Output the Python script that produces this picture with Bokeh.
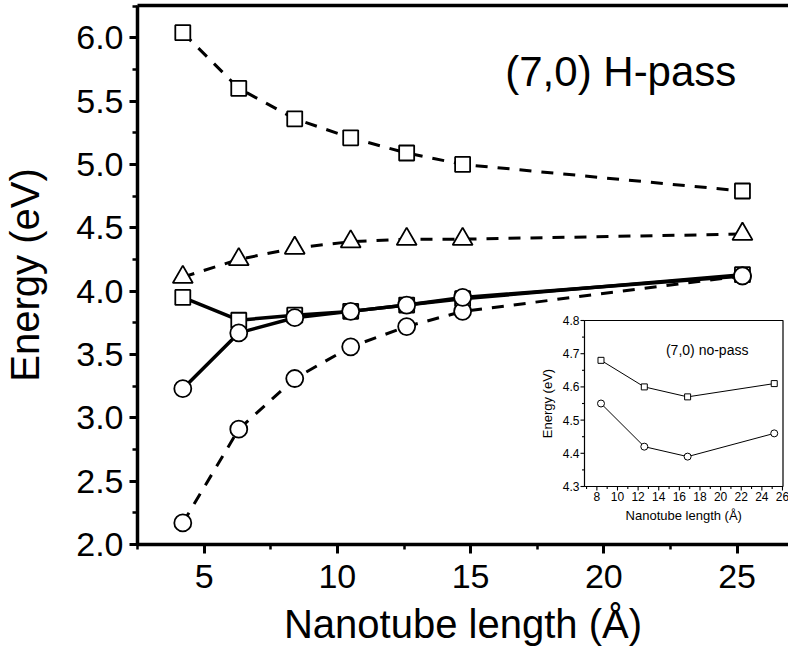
import numpy as np
from bokeh.plotting import figure
from bokeh.models import (Range1d, LinearAxis, SingleIntervalTicker, FixedTicker,
                          PrintfTickFormatter, Label)
from bokeh.core.properties import value
from bokeh.embed import file_html
from bokeh.resources import INLINE

# ---------------- data ----------------
length = [4.2, 6.3, 8.4, 10.5, 12.6, 14.7, 25.2]
sq_dashed = [6.04, 5.60, 5.36, 5.21, 5.09, 5.00, 4.79]
tri_dashed = [4.11, 4.25, 4.34, 4.39, 4.41, 4.41, 4.45]
sq_solid = [3.95, 3.77, 3.81, 3.84, 3.89, 3.94, 4.13]
ci_solid = [3.23, 3.67, 3.79, 3.84, 3.89, 3.95, 4.12]
ci_dashed = [2.17, 2.91, 3.31, 3.56, 3.72, 3.84, 4.12]

inset_length = [8.4, 12.6, 16.8, 25.2]
inset_sq = [4.68, 4.60, 4.57, 4.61]
inset_ci = [4.55, 4.42, 4.39, 4.46]
inset_xticks_major = [8, 10, 12, 14, 16, 18, 20, 22, 24, 26]
inset_xticks_minor = [7, 9, 11, 13, 15, 17, 19, 21, 23, 25]
inset_yticks_major = [4.3, 4.4, 4.5, 4.6, 4.7, 4.8]
inset_yticks_minor = [4.35, 4.45, 4.55, 4.65, 4.75]

FONT = "Liberation Sans"

# ---------------- layout constants ----------------
FW, FH = 651, 539
PX_PER_EV = 126.7
X0, X1 = 2.5, 2.5 + FW / 26.65
Y0 = 2.0
Y1 = Y0 + FH / PX_PER_EV

p = figure(frame_width=FW, frame_height=FH, x_range=Range1d(X0, X1),
           y_range=Range1d(Y0, Y1), output_backend="svg", toolbar_location=None,
           min_border_left=136, min_border_right=0, min_border_top=5,
           min_border_bottom=0)
p.outline_line_color = None
p.xgrid.grid_line_color = None
p.ygrid.grid_line_color = None
p.background_fill_color = "white"

# axes styling
for ax in (p.xaxis[0], p.yaxis[0]):
    ax.axis_line_width = 3.5
    ax.axis_line_color = "black"
    ax.major_tick_line_width = 3
    ax.minor_tick_line_width = 2.5
    ax.major_tick_in = 0
    ax.minor_tick_in = 0
    ax.major_label_text_font = FONT
    ax.major_label_text_font_size = "34px"
    ax.major_label_text_color = "black"
    ax.axis_label_text_font = FONT
    ax.axis_label_text_font_size = "40px"
    ax.axis_label_text_font_style = "normal"
    ax.axis_label_text_color = "black"

p.xaxis[0].ticker = SingleIntervalTicker(interval=5, num_minor_ticks=2)
p.xaxis[0].major_tick_out = 9
p.xaxis[0].minor_tick_out = 5
p.xaxis[0].major_label_standoff = 11
p.xaxis[0].axis_label = "Nanotube length (Å)"
p.xaxis[0].axis_label_standoff = 11

p.yaxis[0].ticker = SingleIntervalTicker(interval=0.5, num_minor_ticks=2)
p.yaxis[0].formatter = PrintfTickFormatter(format="%.1f")
p.yaxis[0].major_tick_out = 8
p.yaxis[0].minor_tick_out = 5
p.yaxis[0].major_label_standoff = 6
p.yaxis[0].axis_label = "Energy (eV)"
p.yaxis[0].axis_label_standoff = 26

top = LinearAxis(ticker=FixedTicker(ticks=[]), major_label_text_font_size="1px",
                 axis_line_width=3.5, axis_line_color="black", major_tick_out=0,
                 major_tick_in=0, minor_tick_out=0, minor_tick_in=0,
                 major_label_standoff=0)
p.add_layout(top, "above")

# ---------------- main series ----------------
LW = 3
DASH = "12 10"
p.line(length, sq_dashed, line_color="black", line_width=LW, line_dash=DASH)
p.line(length, tri_dashed, line_color="black", line_width=LW, line_dash=DASH)
p.line(length, ci_dashed, line_color="black", line_width=LW, line_dash=DASH)
p.line(length, sq_solid, line_color="black", line_width=3.5)
p.line(length, ci_solid, line_color="black", line_width=3.5)

mk = dict(fill_color="white", line_color="black", line_width=1.8)
p.scatter(length, sq_dashed, marker="square", size=15, **mk)
p.scatter(length, tri_dashed, marker="triangle", size=20, **mk)
p.scatter(length, sq_solid, marker="square", size=15, **mk)
p.scatter(length, ci_dashed, marker="circle", size=17, **mk)
p.scatter(length, ci_solid, marker="circle", size=17, **mk)

p.add_layout(Label(x=16.3, y=5.73, text="(7,0) H-pass", text_font=FONT,
                   text_font_size="42px", text_color="black",
                   text_baseline="alphabetic", text_align="left"))

# ---------------- inset (drawn through extra ranges) ----------------
IX0, IX1 = 6.8, 26.05
IY0, IY1 = 4.3, 4.8
in_left, in_right = 447, 645.5      # px from frame left
in_bottom, in_top = 58, 224         # px from frame bottom
sx = (IX1 - IX0) / (in_right - in_left)
sy = (IY1 - IY0) / (in_top - in_bottom)
ix_start = IX0 - in_left * sx
iy_start = IY0 - in_bottom * sy
p.extra_x_ranges = {"ix": Range1d(ix_start, ix_start + FW * sx)}
p.extra_y_ranges = {"iy": Range1d(iy_start, iy_start + FH * sy)}
R = dict(x_range_name="ix", y_range_name="iy")

p.quad(left=[IX0], right=[IX1], bottom=[IY0], top=[IY1], fill_color="white",
       line_color="black", line_width=1.2, **R)

# ticks
nx = len(inset_xticks_major)
p.segment(x0=inset_xticks_major, y0=[IY0] * nx, x1=inset_xticks_major,
          y1=[IY0 - 4 * sy] * nx, line_color="black", line_width=1.1, **R)
p.segment(x0=inset_xticks_minor, y0=[IY0] * len(inset_xticks_minor),
          x1=inset_xticks_minor, y1=[IY0 - 2.5 * sy] * len(inset_xticks_minor),
          line_color="black", line_width=1.1, **R)
ny = len(inset_yticks_major)
p.segment(x0=[IX0] * ny, y0=inset_yticks_major, x1=[IX0 - 4 * sx] * ny,
          y1=inset_yticks_major, line_color="black", line_width=1.1, **R)
p.segment(x0=[IX0] * len(inset_yticks_minor), y0=inset_yticks_minor,
          x1=[IX0 - 2.5 * sx] * len(inset_yticks_minor), y1=inset_yticks_minor,
          line_color="black", line_width=1.1, **R)

# tick labels
p.text(x=inset_xticks_major, y=[IY0] * nx, text=[str(t) for t in inset_xticks_major],
       y_offset=5, text_align="center", text_baseline="top",
       text_font=value(FONT), text_font_size="12px", text_color="black", **R)
p.text(x=[IX0] * ny, y=inset_yticks_major, text=["%.1f" % t for t in inset_yticks_major],
       x_offset=-5, text_align="right", text_baseline="middle",
       text_font=value(FONT), text_font_size="12px", text_color="black", **R)
# axis titles
p.text(x=[(IX0 + IX1) / 2], y=[IY0], text=["Nanotube length (Å)"], y_offset=21,
       text_align="center", text_baseline="top", text_font=value(FONT),
       text_font_size="13px", text_color="black", **R)
p.text(x=[IX0], y=[(IY0 + IY1) / 2], text=["Energy (eV)"], x_offset=-30,
       angle=np.pi / 2, text_align="center", text_baseline="bottom",
       text_font=value(FONT), text_font_size="13px", text_color="black", **R)
p.text(x=[14.7], y=[4.71], text=["(7,0) no-pass"], text_align="left",
       text_baseline="alphabetic", text_font=value(FONT), text_font_size="14px",
       text_color="black", **R)

# inset series
p.line(inset_length, inset_sq, line_color="black", line_width=1, **R)
p.line(inset_length, inset_ci, line_color="black", line_width=1, **R)
p.scatter(inset_length, inset_sq, marker="square", size=6, fill_color="white",
          line_color="black", line_width=1, **R)
p.scatter(inset_length, inset_ci, marker="circle", size=7, fill_color="white",
          line_color="black", line_width=1, **R)

open("out.html", "w").write(file_html(p, INLINE))
